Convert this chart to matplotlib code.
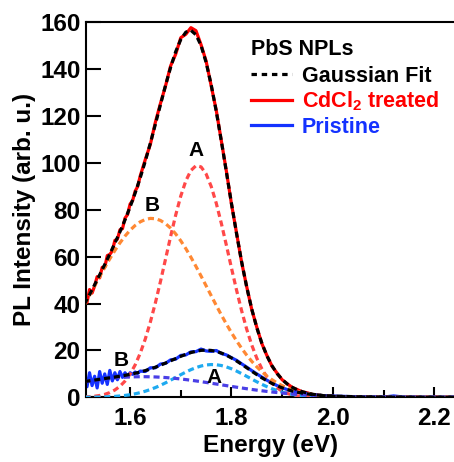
import matplotlib
matplotlib.use("Agg")
import matplotlib.pyplot as plt
from matplotlib.lines import Line2D

plt.rcParams['font.family'] = ['Liberation Sans', 'DejaVu Sans']
plt.rcParams['font.weight'] = 'bold'
plt.rcParams['mathtext.fontset'] = 'custom'
plt.rcParams['mathtext.rm'] = 'Liberation Sans:bold'
plt.rcParams['mathtext.bf'] = 'Liberation Sans:bold'
plt.rcParams['mathtext.default'] = 'bf'

""" Data read off the figure """
energy_fit = [1.51, 1.52, 1.53, 1.54, 1.55, 1.56, 1.57, 1.58, 1.59, 1.60,
              1.61, 1.62, 1.63, 1.64, 1.65, 1.66, 1.67, 1.68, 1.69, 1.70,
              1.71, 1.72, 1.73, 1.74, 1.75, 1.76, 1.77, 1.78, 1.79, 1.80,
              1.81, 1.82, 1.83, 1.84, 1.85, 1.86, 1.87, 1.88, 1.89, 1.90,
              1.91, 1.92, 1.93, 1.94, 1.95, 1.96, 1.97, 1.98, 1.99, 2.00,
              2.05, 2.10, 2.15, 2.20, 2.25]

fit_treated = [39.75, 43.82, 48.01, 52.29, 56.68, 61.16, 65.81, 70.64, 75.76, 81.25,
               87.21, 93.72, 100.83, 108.52, 116.66, 124.99, 133.21, 140.90, 147.57, 152.74,
               155.89, 156.64, 154.76, 150.16, 142.95, 133.44, 122.09, 109.46, 96.16, 82.80,
               69.93, 57.92, 47.12, 37.70, 29.70, 23.07, 17.70, 13.45, 10.15, 7.62,
               5.70, 4.26, 3.18, 2.38, 1.78, 1.32, 0.98, 0.73, 0.55, 0.40,
               0.08, 0.01, 0, 0, 0]
fit_treated_A = [0.15, 0.27, 0.47, 0.78, 1.27, 2.02, 3.13, 4.71, 6.93, 9.92,
                 13.84, 18.81, 24.91, 32.15, 40.41, 49.50, 59.08, 68.70, 77.83, 85.93,
                 92.42, 96.84, 98.88, 98.37, 95.35, 90.04, 82.86, 74.28, 64.88, 55.21,
                 45.79, 36.99, 29.11, 22.33, 16.69, 12.15, 8.62, 5.95, 4.01, 2.63,
                 1.68, 1.05, 0.64, 0.38, 0.22, 0.12, 0.06, 0.03, 0.02, 0.01,
                 0, 0, 0, 0, 0]
fit_treated_B = [39.60, 43.55, 47.54, 51.51, 55.41, 59.14, 62.68, 65.93, 68.83, 71.33,
                 73.37, 74.91, 75.92, 76.37, 76.25, 75.49, 74.13, 72.20, 69.74, 66.81,
                 63.47, 59.80, 55.88, 51.79, 47.60, 43.40, 39.23, 35.18, 31.28, 27.59,
                 24.14, 20.93, 18.01, 15.37, 13.01, 10.92, 9.08, 7.50, 6.14, 4.99,
                 4.02, 3.21, 2.54, 2.00, 1.56, 1.20, 0.92, 0.70, 0.53, 0.39,
                 0.08, 0.01, 0, 0, 0]

fit_pristine = [6.71, 7.05, 7.37, 7.69, 8.01, 8.33, 8.66, 9.01, 9.39, 9.80,
                10.27, 10.80, 11.41, 12.09, 12.86, 13.71, 14.63, 15.58, 16.55, 17.49,
                18.36, 19.10, 19.68, 20.04, 20.17, 20.01, 19.59, 18.91, 17.97, 16.83,
                15.53, 14.11, 12.63, 11.15, 9.70, 8.33, 7.07, 5.93, 4.92, 4.05,
                3.31, 2.70, 2.19, 1.78, 1.44, 1.17, 0.96, 0.78, 0.64, 0.53,
                0.21, 0.08, 0.03, 0.01, 0]
fit_pristine_A = [0.03, 0.05, 0.08, 0.12, 0.18, 0.27, 0.40, 0.57, 0.81, 1.11,
                  1.51, 2.00, 2.61, 3.33, 4.17, 5.13, 6.19, 7.32, 8.49, 9.66,
                  10.79, 11.81, 12.68, 13.36, 13.81, 13.99, 13.91, 13.57, 12.98, 12.18,
                  11.21, 10.12, 8.96, 7.79, 6.63, 5.54, 4.55, 3.66, 2.88, 2.23,
                  1.69, 1.26, 0.92, 0.66, 0.46, 0.32, 0.22, 0.14, 0.09, 0.06,
                  0.01, 0, 0, 0, 0]
fit_pristine_B = [6.68, 7.00, 7.29, 7.57, 7.83, 8.06, 8.26, 8.44, 8.58, 8.69,
                  8.76, 8.80, 8.80, 8.76, 8.69, 8.58, 8.44, 8.26, 8.06, 7.83,
                  7.57, 7.29, 7.00, 6.68, 6.36, 6.02, 5.68, 5.34, 4.99, 4.65,
                  4.32, 3.99, 3.67, 3.36, 3.07, 2.79, 2.52, 2.27, 2.04, 1.82,
                  1.62, 1.44, 1.27, 1.12, 0.98, 0.85, 0.74, 0.64, 0.55, 0.47,
                  0.20, 0.08, 0.03, 0.01, 0]

energy_data = [1.510, 1.515, 1.520, 1.525, 1.530, 1.535, 1.540, 1.545, 1.550, 1.555,
               1.560, 1.565, 1.570, 1.575, 1.580, 1.585, 1.590, 1.595, 1.600, 1.605,
               1.610, 1.615, 1.620,
               1.63, 1.64, 1.65, 1.66, 1.67, 1.68, 1.69, 1.70, 1.71, 1.72,
               1.73, 1.74, 1.75, 1.76, 1.77, 1.78, 1.79, 1.80,
               1.81, 1.82, 1.83, 1.84, 1.85, 1.86, 1.87, 1.88, 1.89, 1.90,
               1.91, 1.92, 1.93, 1.94, 1.95, 1.96, 1.97, 1.98, 1.99, 2.00,
               2.02, 2.04, 2.06, 2.08, 2.10, 2.12, 2.14, 2.16, 2.18, 2.20, 2.22, 2.24]
pl_treated = [42.5, 40.5, 46.0, 44.5, 47.5, 51.5, 51.0, 55.5, 55.5, 60.5,
              61.0, 62.5, 67.0, 67.5, 71.5, 72.0, 76.5, 78.0, 82.5, 84.0,
              88.0, 90.0, 94.5,
              101.5, 108.0, 117.5, 125.5, 133.0, 141.5, 146.5, 153.5, 155.0, 157.8,
              156.5, 150.5, 143.5, 133.0, 122.5, 109.5, 96.5, 82.5,
              70.2, 57.7, 47.3, 37.5, 29.9, 22.9, 17.8, 13.3, 10.3, 7.5,
              5.8, 4.2, 3.3, 2.3, 1.9, 1.2, 1.0, 0.6, 0.6, 0.3,
              0.3, 0.1, 0.2, 0.0, 0.1, 0.2, 0.0, 0.1, 0.0, 0.1, 0.0, 0.1]
pl_pristine = [9.5, 4.5, 10.5, 5.0, 9.0, 4.0, 11.0, 6.0, 10.0, 5.5,
               11.5, 7.0, 10.5, 7.5, 11.0, 8.5, 10.5, 9.0, 10.5, 9.8,
               10.8, 10.2, 11.2,
               11.0, 12.6, 12.6, 14.2, 14.5, 16.0, 16.3, 17.9, 18.1, 19.4,
               19.5, 20.6, 19.8, 19.6, 20.0, 18.7, 18.1, 16.9,
               15.8, 14.3, 12.9, 11.4, 10.0, 8.6, 7.3, 6.1, 5.0, 4.1,
               3.3, 2.6, 2.2, 1.7, 1.5, 1.1, 1.0, 0.7, 0.7, 0.5,
               0.4, 0.3, 0.2, 0.2, 0.1, 0.6, 0.1, 0.1, 0.0, 0.1, 0.0, 0.1]

peak_names = ['A', 'B', 'B', 'A']
peak_E = [1.731, 1.643, 1.582, 1.765]
peak_I = [105.3, 81.8, 15.6, 8.5]

x_ticks = [1.6, 1.8, 2.0, 2.2]
x_minor = [1.7, 1.9, 2.1]
y_ticks = [0, 20, 40, 60, 80, 100, 120, 140, 160]

red, blue = '#ff0000', '#1432ff'
lw = 2.3
dash = (1.9, 1.2)

fig = plt.figure(figsize=(4.54, 4.62), dpi=100)
ax = fig.add_axes([0.1894, 0.140, 0.8128, 0.8113])

# measured spectra
ax.plot(energy_data, pl_treated, color=red, lw=lw, zorder=2)
ax.plot(energy_data, pl_pristine, color=blue, lw=lw, zorder=2)
# gaussian components
ax.plot(energy_fit, fit_treated_A, color='#ff4848', lw=lw, dashes=dash, zorder=3)
ax.plot(energy_fit, fit_treated_B, color='#ff8833', lw=lw, dashes=dash, zorder=3)
ax.plot(energy_fit, fit_pristine_A, color='#1eaaf0', lw=lw, dashes=dash, zorder=3)
ax.plot(energy_fit, fit_pristine_B, color='#4a3fe6', lw=lw, dashes=dash, zorder=3)
# total fits
ax.plot(energy_fit, fit_treated, color='black', lw=lw, dashes=dash, zorder=4)
ax.plot(energy_fit, fit_pristine, color='black', lw=lw, dashes=dash, zorder=4)

for name, e, i in zip(peak_names, peak_E, peak_I):
    ax.text(e, i, name, fontsize=15, fontweight='bold', ha='center', va='center', zorder=5)

ax.set_xlim(1.513, 2.241)
ax.set_ylim(0, 160)
ax.set_xticks(x_ticks)
ax.set_xticklabels(['%.1f' % t for t in x_ticks])
ax.set_xticks(x_minor, minor=True)
ax.set_yticks(y_ticks)
ax.tick_params(axis='x', which='major', direction='in', length=7, width=1.5,
               labelsize=17.5, pad=7)
ax.tick_params(axis='x', which='minor', direction='in', length=5, width=1.5)
ax.tick_params(axis='y', direction='in', length=10.5, width=1.5, labelsize=17.5, pad=4)
for s in ['left', 'top', 'bottom']:
    ax.spines[s].set_linewidth(1.5)
ax.spines['right'].set_visible(False)
ax.set_xlabel('Energy (eV)', fontsize=17.5, fontweight='bold', labelpad=3)
ax.set_ylabel('PL Intensity (arb. u.)', fontsize=17.5, fontweight='bold', labelpad=3)

handles = [Line2D([], [], color='black', lw=lw, dashes=(1.7, 1.5)),
           Line2D([], [], color=red, lw=lw),
           Line2D([], [], color=blue, lw=lw)]
leg = ax.legend(handles, ['Gaussian Fit', r'CdCl$_2$ treated', 'Pristine'],
                title='PbS NPLs', loc='upper left', bbox_to_anchor=(0.448, 0.956),
                frameon=False, fontsize=15.5, title_fontsize=15.5, alignment='left',
                handlelength=1.9, handletextpad=0.45, labelspacing=0.15,
                borderpad=0, borderaxespad=0, labelcolor=['black', red, blue])
leg.get_title().set_fontweight('bold')
leg._legend_box.sep = 4

fig.savefig('out.png', dpi=100)
